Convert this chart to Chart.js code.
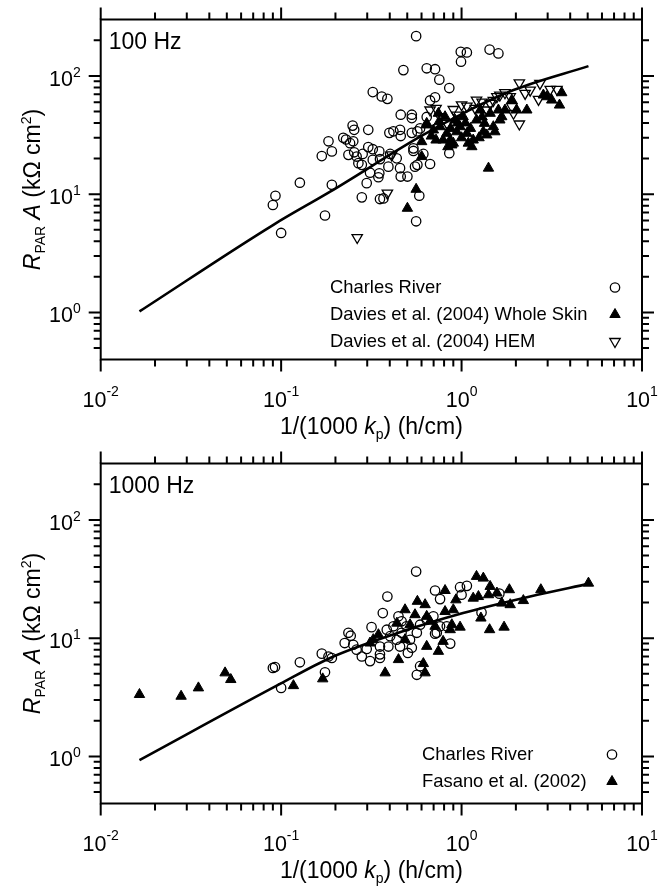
<!DOCTYPE html>
<html>
<head>
<meta charset="utf-8">
<script src="https://cdn.jsdelivr.net/npm/chart.js@4.4.0/dist/chart.umd.min.js"></script>
<style>
  html, body { margin: 0; padding: 0; background: #fff; }
  .panel { width: 659px; height: 444px; position: relative; }
  canvas { display: block; }
</style>
</head>
<body>
<div class="panel"><canvas id="c100" width="659" height="444"></canvas></div>
<div class="panel"><canvas id="c1000" width="659" height="444"></canvas></div>
<script>
// axis ticks (log scales, same for both panels)
const xMajorTicks = [0.01, 0.1, 1, 10];
const xTickExp = ['-2', '-1', '0', '1'];
const xMinorTicks = [0.02, 0.03, 0.04, 0.05, 0.06, 0.07, 0.08, 0.09,
                     0.2, 0.3, 0.4, 0.5, 0.6, 0.7, 0.8, 0.9,
                     2, 3, 4, 5, 6, 7, 8, 9];
const yMajorTicks = [1, 10, 100];
const yTickExp = ['0', '1', '2'];
const yMinorTicks = [0.5, 0.6, 0.7, 0.8, 0.9, 2, 3, 4, 5, 6, 7, 8, 9,
                     20, 30, 40, 50, 60, 70, 80, 90, 200];

// 100 Hz panel  [1/(1000 kp), RPAR A]
const charlesRiver100 = [
  [0.090, 8.1], [0.093, 9.7], [0.100, 4.7], [0.127, 12.5], [0.168, 21], [0.183, 28], [0.175, 6.6], [0.191, 12],
  [0.560, 217], [0.476, 112], [0.641, 116], [0.713, 114], [0.753, 93], [0.855, 79],
  [0.990, 160], [1.07, 158], [0.993, 132], [1.43, 167], [1.60, 155],
  [0.322, 73], [0.361, 67], [0.388, 64], [0.669, 62], [0.713, 66],
  [0.460, 47], [0.530, 47], [0.530, 44], [0.641, 45],
  [0.249, 38], [0.254, 35], [0.304, 35],
  [0.398, 33], [0.419, 34], [0.456, 35], [0.460, 31], [0.530, 33], [0.569, 34], [0.589, 36],
  [0.191, 23], [0.221, 30], [0.229, 29], [0.241, 27], [0.251, 28], [0.304, 25], [0.322, 24], [0.350, 23],
  [0.236, 21.5], [0.254, 22.6], [0.283, 21.9], [0.262, 20.8],
  [0.268, 18.3], [0.280, 17.7], [0.322, 19.5], [0.353, 19.8], [0.402, 21.9], [0.437, 20.1],
  [0.311, 15.2], [0.350, 15.0], [0.346, 13.9], [0.393, 17.1], [0.456, 16.6], [0.460, 14.1], [0.501, 14.1],
  [0.541, 23.2], [0.552, 17.1], [0.614, 21.9], [0.669, 18.0], [0.569, 17.7],
  [0.855, 22.2], [0.298, 12.4], [0.280, 9.4], [0.353, 9.1], [0.369, 9.2], [0.583, 9.7], [0.560, 5.9], [0.541, 24.4]
];
const daviesSkin100 = [
  [0.560, 11.0], [0.501, 7.6], [1.41, 16.6], [0.637, 38.5], [0.601, 27.8], [0.601, 20.8],
  [0.698, 34.9], [0.722, 28.7], [0.760, 37.2], [0.810, 45.2], [0.828, 32.7], [0.865, 28.7], [0.883, 26.1],
  [0.920, 42.4], [0.940, 33.7], [0.981, 37.2], [1.02, 45.2], [1.07, 32.7], [1.09, 27.0], [1.14, 25.2],
  [1.16, 28.7], [1.21, 42.4], [1.27, 51.5], [1.32, 33.7], [1.34, 39.7], [1.38, 31.7], [1.44, 48.3],
  [1.50, 37.2], [1.53, 33.7], [1.60, 51.5], [1.63, 42.4], [1.67, 45.2], [1.74, 51.5], [1.90, 62.5],
  [2.30, 51.5], [2.97, 66.7], [3.16, 62.5], [3.59, 72.1], [3.49, 56.7], [2.84, 68.9], [0.744, 48.3],
  [0.79, 28.7], [0.84, 25.2], [0.90, 27.0], [0.641, 39.7], [2.02, 51.5],
  [0.68, 31], [0.75, 41], [0.87, 36], [1.00, 30], [1.12, 36], [1.25, 30], [0.95, 40], [1.30, 45], [1.05, 40]
];
const daviesHem100 = [
  [0.264, 4.3], [0.388, 10.2], [0.41, 21.5], [0.722, 53.2], [0.760, 45.2], [1.07, 55.6], [1.21, 62.5],
  [1.19, 53.2], [1.38, 51.5], [1.63, 68.9], [1.74, 72.1], [1.90, 54.9], [1.94, 48.3], [2.09, 87.5],
  [2.09, 39.2], [2.25, 71.2], [2.40, 75.9], [2.72, 86.5], [2.67, 63.4], [3.10, 76.9], [3.38, 76.9],
  [0.94, 46.7], [0.83, 39.7], [0.669, 51.5], [1.44, 58.6], [1.57, 66.7], [1.86, 66.7],
  [1.00, 57], [1.30, 60], [0.90, 52], [1.50, 62]
];
const fit100 = [[0.0164, 1.02], [0.0906, 5.51], [0.187, 10.5], [0.589, 30.6], [1.02, 48.3], [1.94, 75.9], [5.05, 121]];

// 1000 Hz panel
const charlesRiver1000 = [
  [0.090, 5.6], [0.0925, 5.7], [0.100, 3.8], [0.127, 6.25], [0.168, 7.4], [0.175, 5.15], [0.183, 7.0],
  [0.560, 36.6], [0.388, 22.5], [0.366, 16.3], [0.713, 25.3], [0.760, 21.4], [0.981, 27.0], [1.07, 27.7],
  [1.00, 23.3], [1.62, 23.8], [1.29, 16.5], [0.317, 12.4], [0.236, 11.1], [0.243, 10.5], [0.225, 9.1],
  [0.251, 8.8], [0.262, 8.0], [0.280, 7.0], [0.298, 8.1], [0.311, 6.4], [0.353, 7.3], [0.353, 6.8], [0.191, 6.8],
  [0.385, 11.8], [0.402, 10.4], [0.419, 12.6], [0.437, 9.7], [0.456, 8.5], [0.465, 11.1], [0.495, 12.6],
  [0.518, 9.7], [0.530, 8.3], [0.447, 15.3], [0.465, 13.9], [0.565, 11.1], [0.589, 13.0], [0.641, 14.3],
  [0.698, 15.3], [0.729, 11.1], [0.865, 9.0], [0.760, 12.6], [0.504, 7.5], [0.353, 8.5], [0.393, 8.5],
  [0.565, 4.9], [0.589, 5.8], [0.713, 10.9], [0.828, 12.6]
];
const fasano1000 = [
  [0.0164, 3.34], [0.0279, 3.23], [0.0348, 3.80], [0.0489, 5.09], [0.0526, 4.47], [0.117, 3.97], [0.170, 4.53],
  [0.377, 5.09], [0.447, 6.59], [0.614, 6.10], [0.628, 5.09], [0.641, 8.53], [0.744, 7.74], [0.79, 9.40],
  [0.865, 11.8], [0.981, 12.4], [0.883, 13.0], [0.81, 16.8], [0.90, 17.4], [0.93, 21.1], [0.81, 25.3],
  [0.569, 20.5], [0.628, 19.2], [0.486, 17.4], [0.552, 15.8], [0.641, 15.3], [0.669, 13.9], [0.713, 12.6],
  [0.324, 9.72], [0.346, 10.7], [0.518, 13.0], [1.21, 33.3], [1.32, 32.2], [1.44, 27.4], [1.41, 23.3],
  [1.16, 21.8], [1.24, 22.5], [1.57, 24.1], [1.84, 25.7], [1.67, 19.8], [1.86, 19.2], [2.20, 20.8],
  [2.75, 25.7], [5.05, 29.2], [1.28, 14.8], [1.43, 11.8], [1.72, 12.4], [0.438, 13.4], [0.486, 9.72], [0.311, 9.10]
];
const fit1000 = [[0.0164, 0.93], [0.0986, 4.1], [0.187, 6.8], [0.438, 11.0], [1.02, 16.3], [2.40, 22.5], [5.05, 28.8]];

const FONT = '"Liberation Sans", Arial, Helvetica, sans-serif';
const toXY = arr => arr.map(p => ({ x: p[0], y: p[1] }));

// marker styles
const MARK = {
  circle:  { pointStyle: 'circle',   pointRadius: 4.7, pointRotation: 0,   pointBorderWidth: 1.3, pointBackgroundColor: 'rgba(0,0,0,0)', pointBorderColor: '#000' },
  tri:     { pointStyle: 'triangle', pointRadius: 6,   pointRotation: 0,   pointBorderWidth: 1,   pointBackgroundColor: '#000', pointBorderColor: '#000' },
  triDown: { pointStyle: 'triangle', pointRadius: 6,   pointRotation: 180, pointBorderWidth: 1.3, pointBackgroundColor: 'rgba(0,0,0,0)', pointBorderColor: '#000' }
};

function scatterSet(label, arr, mark) {
  return Object.assign({ label, data: toXY(arr), showLine: false }, MARK[mark]);
}
function fitSet(arr) {
  return { label: 'fit', data: toXY(arr), showLine: true, pointRadius: 0, borderColor: '#000',
           borderWidth: 2.6, cubicInterpolationMode: 'monotone', fill: false };
}

function font(size, italic) { return (italic ? 'italic ' : '') + size + 'px ' + FONT; }

// draw runs of text with different fonts / baseline shifts
function drawRich(ctx, segs, x, y, align) {
  let total = 0;
  segs.forEach(s => { ctx.font = font(s.size, s.italic); s.w = ctx.measureText(s.text).width; total += s.w; });
  let cx = align === 'center' ? x - total / 2 : align === 'right' ? x - total : x;
  ctx.textAlign = 'left';
  ctx.textBaseline = 'alphabetic';
  segs.forEach(s => {
    ctx.font = font(s.size, s.italic);
    ctx.fillText(s.text, cx, y + (s.dy || 0));
    cx += s.w;
  });
}

function drawMarker(ctx, mark, x, y) {
  const m = MARK[mark];
  const r = m.pointRadius;
  ctx.save();
  ctx.lineWidth = m.pointBorderWidth;
  ctx.strokeStyle = '#000';
  ctx.fillStyle = m.pointBackgroundColor;
  ctx.beginPath();
  if (m.pointStyle === 'circle') {
    ctx.arc(x, y, r, 0, Math.PI * 2);
  } else {
    const s = m.pointRotation ? -1 : 1;
    ctx.moveTo(x, y - s * r);
    ctx.lineTo(x + 0.866 * r, y + s * 0.5 * r);
    ctx.lineTo(x - 0.866 * r, y + s * 0.5 * r);
  }
  ctx.closePath();
  ctx.fill();
  ctx.stroke();
  ctx.restore();
}

function framePlugin(cfg) {
  return {
    id: 'frame',
    afterDatasetsDraw(chart) {
      const ctx = chart.ctx, a = chart.chartArea;
      const xs = chart.scales.x, ys = chart.scales.y;
      ctx.save();
      ctx.strokeStyle = '#000';
      ctx.fillStyle = '#000';
      ctx.lineWidth = 2;
      ctx.strokeRect(a.left, a.top, a.right - a.left, a.bottom - a.top);

      ctx.beginPath();
      const tickX = (v, len) => {
        const p = xs.getPixelForValue(v);
        ctx.moveTo(p, a.bottom); ctx.lineTo(p, a.bottom + len);
        ctx.moveTo(p, a.top); ctx.lineTo(p, a.top - len);
      };
      const tickY = (v, len) => {
        const p = ys.getPixelForValue(v);
        ctx.moveTo(a.left, p); ctx.lineTo(a.left - len, p);
        ctx.moveTo(a.right, p); ctx.lineTo(a.right + len, p);
      };
      xMajorTicks.forEach(v => tickX(v, 12));
      xMinorTicks.forEach(v => tickX(v, 7));
      yMajorTicks.forEach(v => tickY(v, 12));
      yMinorTicks.forEach(v => tickY(v, 7));
      ctx.stroke();

      // tick labels
      xMajorTicks.forEach((v, i) => {
        drawRich(ctx, [{ text: '10', size: 21.5 }, { text: xTickExp[i], size: 14, dy: -11 }],
                 xs.getPixelForValue(v), a.bottom + 47, 'center');
      });
      yMajorTicks.forEach((v, i) => {
        drawRich(ctx, [{ text: '10', size: 21.5 }, { text: yTickExp[i], size: 14, dy: -9 }],
                 a.left - 20, ys.getPixelForValue(v) + 10, 'right');
      });

      // axis titles
      drawRich(ctx, [{ text: '1/(1000 ', size: 23 }, { text: 'k', size: 23, italic: true },
                     { text: 'p', size: 14, dy: 5 }, { text: ') (h/cm)', size: 23 }],
               (a.left + a.right) / 2, a.bottom + 74, 'center');
      ctx.save();
      ctx.translate(a.left - 61, (a.top + a.bottom) / 2);
      ctx.rotate(-Math.PI / 2);
      drawRich(ctx, [{ text: 'R', size: 23, italic: true }, { text: 'PAR', size: 14, dy: 5 },
                     { text: ' A', size: 23, italic: true }, { text: ' (k\u03A9 cm', size: 23 },
                     { text: '2', size: 14, dy: -9 }, { text: ')', size: 23 }], 0, 0, 'center');
      ctx.restore();

      // panel label
      drawRich(ctx, [{ text: cfg.label, size: 23 }], a.left + 8, a.top + 29, 'left');

      // legend
      cfg.legend.forEach((item, i) => {
        const yy = a.top + cfg.legendTop + i * 27;
        ctx.font = font(18.4);
        ctx.textAlign = 'left';
        ctx.textBaseline = 'middle';
        ctx.fillText(item.text, a.left + cfg.legendTextX, yy);
        drawMarker(ctx, item.mark, a.left + cfg.legendMarkX, yy);
      });
      ctx.restore();
    }
  };
}

function makePanel(id, datasets, cfg) {
  return new Chart(document.getElementById(id), {
    type: 'scatter',
    data: { datasets },
    options: {
      responsive: false,
      animation: false,
      devicePixelRatio: 1,
      events: [],
      layout: { padding: { left: 100.7, right: 17, top: 19.5, bottom: 84.5 } },
      scales: {
        x: { type: 'logarithmic', min: 0.01, max: 10, display: false },
        y: { type: 'logarithmic', min: 0.4, max: 300, display: false }
      },
      plugins: { legend: { display: false }, tooltip: { enabled: false } }
    },
    plugins: [framePlugin(cfg)]
  });
}

makePanel('c100', [
  fitSet(fit100),
  scatterSet('Charles River', charlesRiver100, 'circle'),
  scatterSet('Davies et al. (2004) Whole Skin', daviesSkin100, 'tri'),
  scatterSet('Davies et al. (2004) HEM', daviesHem100, 'triDown')
], {
  label: '100 Hz',
  legendTop: 268, legendTextX: 229.3, legendMarkX: 514.3,
  legend: [
    { text: 'Charles River', mark: 'circle' },
    { text: 'Davies et al. (2004) Whole Skin', mark: 'tri' },
    { text: 'Davies et al. (2004) HEM', mark: 'triDown' }
  ]
});

makePanel('c1000', [
  fitSet(fit1000),
  scatterSet('Charles River', charlesRiver1000, 'circle'),
  scatterSet('Fasano et al. (2002)', fasano1000, 'tri')
], {
  label: '1000 Hz',
  legendTop: 291, legendTextX: 321.3, legendMarkX: 511.3,
  legend: [
    { text: 'Charles River', mark: 'circle' },
    { text: 'Fasano et al. (2002)', mark: 'tri' }
  ]
});
</script>
</body>
</html>
